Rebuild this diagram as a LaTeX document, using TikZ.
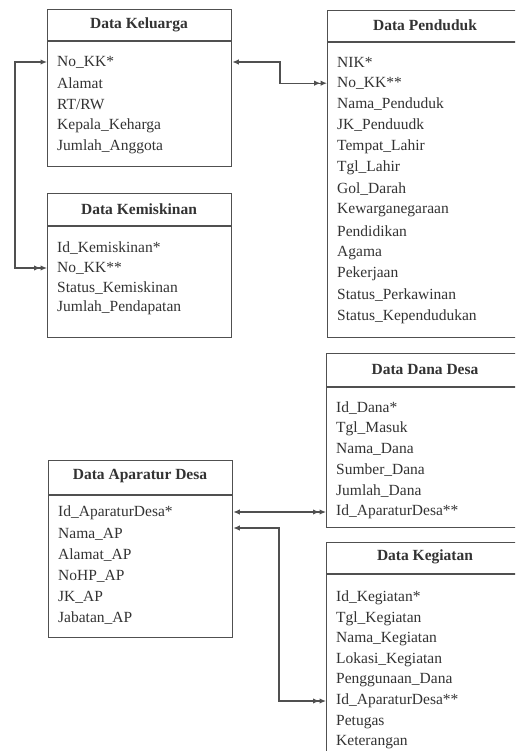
\documentclass[tikz,border=0pt]{standalone}
\usepackage{fontspec}
\setmainfont{Liberation Serif}
\usetikzlibrary{arrows.meta}
\definecolor{linec}{HTML}{505050}
\definecolor{txtc}{HTML}{333333}
\begin{document}
\begin{tikzpicture}[x=1pt,y=-1pt,
  >={Latex[length=6.5pt,width=5.5pt]},
  box/.style={draw=linec, line width=1.3pt, fill=white, anchor=north west, inner sep=0pt},
  ttl/.style={font=\fontsize{15.5}{18}\selectfont\bfseries, text=txtc, inner sep=0pt},
  fld/.style={font=\fontsize{15.5}{18}\selectfont, text=txtc, anchor=west, inner sep=0pt},
  sep/.style={draw=linec, line width=1.3pt},
  conn/.style={draw=linec, line width=1.2pt, <->>}
]
\clip (0,0) rectangle (515,751);
\fill[white] (0,0) rectangle (515,751);

% ---------- Data Keluarga ----------
\node[box, minimum width=184pt, minimum height=157pt] (kel) at (47,9) {};
\draw[sep] (kel.west |- 0,41) -- (kel.east |- 0,41);
\node[ttl] (kelT) at (139,25) {Data Keluarga};
\node[fld] (kel1) at (57,62) {No\_KK*};
\node[fld] (kel2) at (57,83.2) {Alamat};
\node[fld] (kel3) at (57,104.4) {RT/RW};
\node[fld] (kel4) at (57,125.6) {Kepala\_Keharga};
\node[fld] (kel5) at (57,146.8) {Jumlah\_Anggota};

% ---------- Data Kemiskinan ----------
\node[box, minimum width=184pt, minimum height=144pt] (kem) at (47,193) {};
\draw[sep] (kem.west |- 0,226) -- (kem.east |- 0,226);
\node[ttl] (kemT) at (139,209) {Data Kemiskinan};
\node[fld] (kem1) at (57,248) {Id\_Kemiskinan*};
\node[fld] (kem2) at (57,268) {No\_KK**};
\node[fld] (kem3) at (57,288) {Status\_Kemiskinan};
\node[fld] (kem4) at (57,308) {Jumlah\_Pendapatan};

% ---------- Data Penduduk ----------
\node[box, minimum width=210pt, minimum height=327pt] (pen) at (327,10) {};
\draw[sep] (pen.west |- 0,42) -- (pen.east |- 0,42);
\node[ttl] (penT) at (425,25) {Data Penduduk};
\node[fld] (pen1) at (337,62) {NIK*};
\node[fld] (pen2) at (337,83.2) {No\_KK**};
\node[fld] (pen3) at (337,104.4) {Nama\_Penduduk};
\node[fld] (pen4) at (337,125.6) {JK\_Penduudk};
\node[fld] (pen5) at (337,146.8) {Tempat\_Lahir};
\node[fld] (pen6) at (337,168) {Tgl\_Lahir};
\node[fld] (pen7) at (337,189.2) {Gol\_Darah};
\node[fld] (pen8) at (337,210.4) {Kewarganegaraan};
\node[fld] (pen9) at (337,231.6) {Pendidikan};
\node[fld] (pen10) at (337,252.8) {Agama};
\node[fld] (pen11) at (337,274) {Pekerjaan};
\node[fld] (pen12) at (337,295.2) {Status\_Perkawinan};
\node[fld] (pen13) at (337,316.4) {Status\_Kependudukan};

% ---------- Data Dana Desa ----------
\node[box, minimum width=210pt, minimum height=174pt] (dan) at (326,353) {};
\draw[sep] (dan.west |- 0,387) -- (dan.east |- 0,387);
\node[ttl] (danT) at (425,369) {Data Dana Desa};
\node[fld] (dan1) at (336,408) {Id\_Dana*};
\node[fld] (dan2) at (336,428.8) {Tgl\_Masuk};
\node[fld] (dan3) at (336,449.6) {Nama\_Dana};
\node[fld] (dan4) at (336,470.4) {Sumber\_Dana};
\node[fld] (dan5) at (336,491.2) {Jumlah\_Dana};
\node[fld] (dan6) at (336,512) {Id\_AparaturDesa**};

% ---------- Data Aparatur Desa ----------
\node[box, minimum width=184pt, minimum height=177pt] (apa) at (48,460) {};
\draw[sep] (apa.west |- 0,495) -- (apa.east |- 0,495);
\node[ttl] (apaT) at (140,476) {Data Aparatur Desa};
\node[fld] (apa1) at (58,513) {Id\_AparaturDesa*};
\node[fld] (apa2) at (58,534) {Nama\_AP};
\node[fld] (apa3) at (58,555) {Alamat\_AP};
\node[fld] (apa4) at (58,576) {NoHP\_AP};
\node[fld] (apa5) at (58,597) {JK\_AP};
\node[fld] (apa6) at (58,618) {Jabatan\_AP};

% ---------- Data Kegiatan ----------
\node[box, minimum width=210pt, minimum height=220pt] (keg) at (326,542) {};
\draw[sep] (keg.west |- 0,574) -- (keg.east |- 0,574);
\node[ttl] (kegT) at (425,557) {Data Kegiatan};
\node[fld] (keg1) at (336,598) {Id\_Kegiatan*};
\node[fld] (keg2) at (336,618.6) {Tgl\_Kegiatan};
\node[fld] (keg3) at (336,639.2) {Nama\_Kegiatan};
\node[fld] (keg4) at (336,659.8) {Lokasi\_Kegiatan};
\node[fld] (keg5) at (336,680.4) {Penggunaan\_Dana};
\node[fld] (keg6) at (336,701) {Id\_AparaturDesa**};
\node[fld] (keg7) at (336,721.6) {Petugas};
\node[fld] (keg8) at (336,742.2) {Keterangan};

% ---------- connectors ----------
\coordinate (jA) at (280,0);
\coordinate (jB) at (15,0);
\coordinate (jC) at (279,0);
\coordinate (apaC) at (0,528);

\draw[conn] (kel.east |- kel1) -- (jA |- kel1) -- (jA |- pen2) -- (pen.west |- pen2);
\draw[conn] (kel.west |- kel1) -- (jB |- kel1) -- (jB |- kem2) -- (kem.west |- kem2);
\draw[conn] (apa.east |- dan6) -- (dan.west |- dan6);
\draw[conn] (apa.east |- apaC) -- (jC |- apaC) -- (jC |- keg6) -- (keg.west |- keg6);
\end{tikzpicture}
\end{document}
